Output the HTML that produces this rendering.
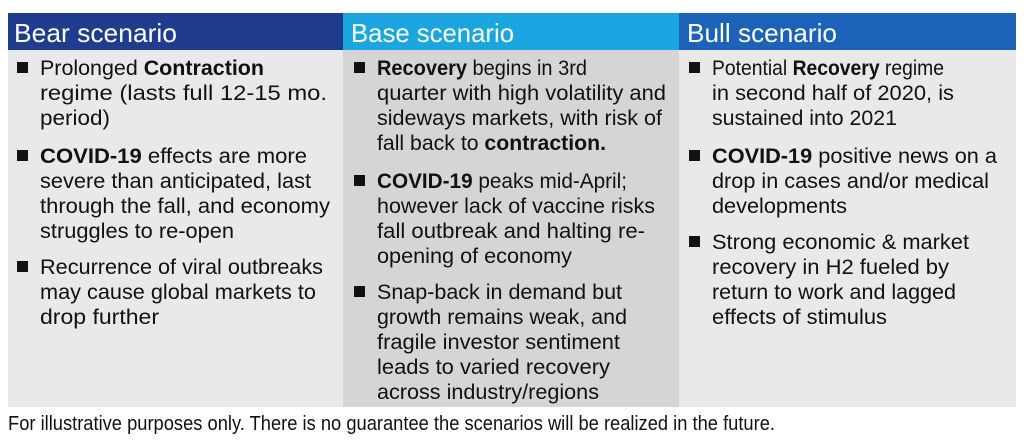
<!DOCTYPE html>
<html><head><meta charset="utf-8"><style>
html,body{margin:0;padding:0;background:#fff;width:1024px;height:441px;overflow:hidden}
svg{display:block}
text{font-family:"Liberation Sans",sans-serif;fill:#111}
</style></head><body>
<svg id="s" width="1024" height="441">
<rect x="8" y="13" width="335" height="37" fill="#1f3c8f"/>
<rect x="343" y="13" width="336" height="37" fill="#1ba6e2"/>
<rect x="679" y="13" width="337" height="37" fill="#1b62b8"/>
<rect x="8" y="50" width="335" height="357" fill="#e9e9eb"/>
<rect x="343" y="50" width="336" height="357" fill="#d5d5d7"/>
<rect x="679" y="50" width="337" height="357" fill="#e9e9eb"/>
<text x="14" y="42" font-size="26" style="fill:#fff" textLength="163" lengthAdjust="spacingAndGlyphs">Bear scenario</text>
<text x="351" y="42" font-size="26" style="fill:#fff" textLength="163" lengthAdjust="spacingAndGlyphs">Base scenario</text>
<text x="687" y="42" font-size="26" style="fill:#fff" textLength="150" lengthAdjust="spacingAndGlyphs">Bull scenario</text>
<text x="8" y="430" font-size="20" textLength="767" lengthAdjust="spacingAndGlyphs">For illustrative purposes only. There is no guarantee the scenarios will be realized in the future.</text>
</svg>
<script>
const NS="http://www.w3.org/2000/svg";
const svg=document.getElementById('s');
// [x, centerY, endX, bold-prefix, rest, bullet?, suffixBold]
const lines=[
[40,67,264,"","Prolonged ",1,"Contraction"],
[40,92,327,"","regime (lasts full 12-15 mo.",0,""],
[40,117,110,"","period)",0,""],
[40,155,307,"COVID-19"," effects are more",1,""],
[40,180,311,"","severe than anticipated, last",0,""],
[40,205,330,"","through the fall, and economy",0,""],
[40,230,234,"","struggles to re-open",0,""],
[40,266,323,"","Recurrence of viral outbreaks",1,""],
[40,291,316,"","may cause global markets to",0,""],
[40,316,159,"","drop further",0,""],
[377,67,587,"Recovery"," begins in 3rd",1,""],
[377,92,666,"","quarter with high volatility and",0,""],
[377,117,662,"","sideways markets, with risk of",0,""],
[377,142,606,"","fall back to ",0,"contraction."],
[377,180,627,"COVID-19"," peaks mid-April;",1,""],
[377,205,655,"","however lack of vaccine risks",0,""],
[377,230,645,"","fall outbreak and halting re-",0,""],
[377,255,572,"","opening of economy",0,""],
[377,291,622,"","Snap-back in demand but",1,""],
[377,316,627,"","growth remains weak, and",0,""],
[377,341,620,"","fragile investor sentiment",0,""],
[377,366,610,"","leads to varied recovery",0,""],
[377,391,599,"","across industry/regions",0,""],
[712,67,944,"","Potential ",1,"Recovery regime"],
[712,92,954,"","in second half of 2020, is",0,""],
[712,117,897,"","sustained into 2021",0,""],
[712,155,997,"COVID-19"," positive news on a",1,""],
[712,180,989,"","drop in cases and/or medical",0,""],
[712,205,847,"","developments",0,""],
[712,241,969,"","Strong economic & market",1,""],
[712,266,949,"","recovery in H2 fueled by",0,""],
[712,291,956,"","return to work and lagged",0,""],
[712,316,887,"","effects of stimulus",0,""]
];
lines.forEach(l=>{
  const [x,cy,ex,b,r,bul,sb]=l;
  if(bul){
    const q=document.createElementNS(NS,'rect');
    q.setAttribute('x',x-23);q.setAttribute('y',cy-5);q.setAttribute('width',11);q.setAttribute('height',11);q.setAttribute('fill','#111');
    
    
    svg.appendChild(q);
  }
  const t=document.createElementNS(NS,'text');
  t.setAttribute('x',x);t.setAttribute('y',cy+8);t.setAttribute('font-size','21');
  t.setAttribute('textLength',ex-x);t.setAttribute('lengthAdjust','spacingAndGlyphs');
  
  
  if(b){const s=document.createElementNS(NS,'tspan');s.setAttribute('font-weight','bold');s.textContent=b;t.appendChild(s);}
  const s2=document.createElementNS(NS,'tspan');s2.textContent=r;t.appendChild(s2);
  if(sb){const s=document.createElementNS(NS,'tspan');s.setAttribute('font-weight','bold');
    const m=sb.match(/^(\S+)(.*)$/);s.textContent=m[1];t.appendChild(s);
    if(m[2]){const s3=document.createElementNS(NS,'tspan');s3.textContent=m[2];t.appendChild(s3);}}
  svg.appendChild(t);
});
</script>
</body></html>
